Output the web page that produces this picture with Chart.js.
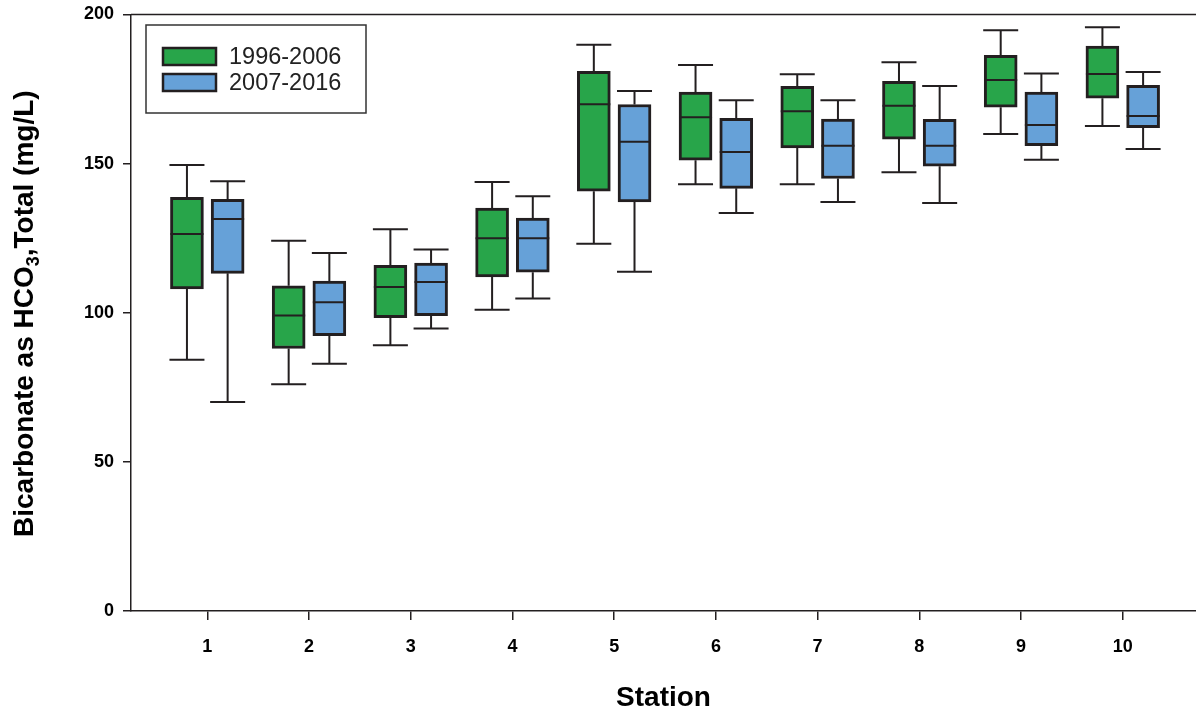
<!DOCTYPE html>
<html lang="en">

<head>
    <meta charset="UTF-8">
    <title>Bicarbonate by station</title>
    <script src="https://cdn.jsdelivr.net/npm/chart.js"></script>
    <style>
        html, body { margin: 0; padding: 0; background: #fff; }
        #wrap { position: relative; width: 1196px; height: 715px; }
    </style>
</head>

<body>
    <div id="wrap">
        <canvas id="boxChart"></canvas>
    </div>
    <script>
        const stations = [1, 2, 3, 4, 5, 6, 7, 8, 9, 10];
        const yTicks = [0, 50, 100, 150, 200];

        // 1996-2006
        const earlyMin = [84.2, 76.0, 89.1, 101.0, 123.1, 143.1, 143.1, 147.1, 159.9, 162.6];
        const earlyQ1 = [108.0, 88.0, 98.3, 112.0, 140.7, 151.1, 155.2, 158.2, 168.9, 171.9];
        const earlyMed = [126.4, 99.1, 108.6, 125.0, 169.9, 165.5, 167.5, 169.4, 178.0, 180.0];
        const earlyQ3 = [138.7, 109.0, 115.9, 135.1, 180.9, 174.0, 175.9, 177.6, 186.3, 189.4];
        const earlyMax = [149.5, 124.1, 128.0, 143.8, 189.8, 183.0, 179.9, 184.0, 194.7, 195.7];

        // 2007-2016
        const lateMin = [70.1, 82.9, 94.7, 104.8, 113.7, 133.4, 137.1, 136.8, 151.3, 154.9];
        const lateQ1 = [113.2, 92.3, 99.0, 113.6, 137.1, 141.7, 145.0, 149.1, 156.0, 162.0];
        const lateMed = [131.4, 103.5, 110.3, 125.0, 157.3, 153.9, 156.0, 156.0, 162.9, 165.9];
        const lateQ3 = [138.0, 110.6, 116.6, 131.7, 169.8, 165.2, 164.9, 164.8, 174.0, 176.2];
        const lateMax = [144.1, 120.0, 121.2, 139.0, 174.3, 171.2, 171.2, 176.0, 180.2, 180.7];

        const INK = '#231f20';
        const FONT = "Arial, 'Liberation Sans', sans-serif";

        function boxData(shift, q1, q3) {
            return stations.map((s, i) => ({ x: s + shift, y: [q1[i], q3[i]] }));
        }

        // whiskers + median lines, drawn on top of the bars
        const whiskerPlugin = {
            id: 'whiskers',
            afterDatasetsDraw(chart) {
                const { ctx } = chart;
                const xs = chart.scales.x, ys = chart.scales.y;
                chart.data.datasets.forEach((ds, di) => {
                    const meta = chart.getDatasetMeta(di);
                    ctx.save();
                    ctx.strokeStyle = INK;
                    ctx.lineCap = 'butt';
                    meta.data.forEach((bar, i) => {
                        const cx = xs.getPixelForValue(ds.data[i].x);
                        const half = bar.width / 2;
                        const yMin = ys.getPixelForValue(ds.lo[i]);
                        const yMax = ys.getPixelForValue(ds.hi[i]);
                        const yQ1 = ys.getPixelForValue(ds.data[i].y[0]);
                        const yQ3 = ys.getPixelForValue(ds.data[i].y[1]);
                        const yMed = ys.getPixelForValue(ds.med[i]);
                        ctx.lineWidth = 2;
                        ctx.beginPath();
                        ctx.moveTo(cx, yQ3); ctx.lineTo(cx, yMax);
                        ctx.moveTo(cx, yQ1); ctx.lineTo(cx, yMin);
                        ctx.moveTo(cx - half - 1, yMax); ctx.lineTo(cx + half + 1, yMax);
                        ctx.moveTo(cx - half - 1, yMin); ctx.lineTo(cx + half + 1, yMin);
                        ctx.stroke();
                        ctx.beginPath();
                        ctx.moveTo(cx - half, yMed); ctx.lineTo(cx + half, yMed);
                        ctx.stroke();
                    });
                    ctx.restore();
                });
            }
        };

        // top frame line, y title with subscript, legend box
        const decorPlugin = {
            id: 'decor',
            afterDraw(chart) {
                const { ctx, chartArea } = chart;
                ctx.save();
                ctx.strokeStyle = INK;
                ctx.lineWidth = 1.5;
                ctx.beginPath();
                ctx.moveTo(chartArea.left, chartArea.top);
                ctx.lineTo(chart.width, chartArea.top);
                ctx.stroke();

                // y axis title
                const parts = [
                    { t: 'Bicarbonate as HCO', f: 'bold 28px ' + FONT, dy: 0 },
                    { t: '3', f: 'bold 18px ' + FONT, dy: 6 },
                    { t: ',Total (mg/L)', f: 'bold 28px ' + FONT, dy: 0 }
                ];
                parts.forEach(p => { ctx.font = p.f; p.w = ctx.measureText(p.t).width; });
                ctx.translate(33, 537);
                ctx.rotate(-Math.PI / 2);
                ctx.fillStyle = '#000';
                ctx.textBaseline = 'alphabetic';
                let px = 0;
                parts.forEach(p => {
                    ctx.font = p.f;
                    ctx.fillText(p.t, px, p.dy);
                    px += p.w;
                });
                ctx.restore();

                // legend
                ctx.save();
                const lx = 146, ly = 25, lw = 220, lh = 88;
                ctx.strokeStyle = '#333';
                ctx.lineWidth = 1.5;
                ctx.strokeRect(lx, ly, lw, lh);
                chart.data.datasets.forEach((ds, i) => {
                    const ry = 48 + i * 26;
                    ctx.fillStyle = ds.backgroundColor;
                    ctx.fillRect(163, ry, 53, 17);
                    ctx.strokeStyle = INK;
                    ctx.lineWidth = 2.5;
                    ctx.strokeRect(163, ry, 53, 17);
                    ctx.fillStyle = '#222';
                    ctx.font = '23.5px ' + FONT;
                    ctx.textBaseline = 'middle';
                    ctx.fillText(ds.label, 229, ry + 9.5);
                });
                ctx.restore();
            }
        };

        const ctx = document.getElementById('boxChart').getContext('2d');
        new Chart(ctx, {
            type: 'bar',
            data: {
                datasets: [
                    {
                        label: '1996-2006',
                        data: boxData(-0.2, earlyQ1, earlyQ3),
                        lo: earlyMin, hi: earlyMax, med: earlyMed,
                        backgroundColor: '#28a54a',
                        borderColor: INK,
                        borderWidth: 3,
                        borderSkipped: false,
                        barThickness: 33,
                        grouped: false
                    },
                    {
                        label: '2007-2016',
                        data: boxData(0.2, lateQ1, lateQ3),
                        lo: lateMin, hi: lateMax, med: lateMed,
                        backgroundColor: '#66a1d8',
                        borderColor: INK,
                        borderWidth: 3,
                        borderSkipped: false,
                        barThickness: 33,
                        grouped: false
                    }
                ]
            },
            options: {
                responsive: true,
                maintainAspectRatio: false,
                animation: false,
                layout: { padding: { top: 14, right: 0, left: 0, bottom: 0 } },
                plugins: {
                    legend: { display: false },
                    tooltip: { enabled: false }
                },
                scales: {
                    x: {
                        type: 'linear',
                        offset: false,
                        min: 0.25,
                        max: 10.72,
                        afterBuildTicks: s => { s.ticks = stations.map(v => ({ value: v })); },
                        afterFit: s => { s.height = 104; },
                        grid: { offset: false, drawOnChartArea: false, tickLength: 9, color: INK, lineWidth: 1.5 },
                        border: { color: INK, width: 1.5 },
                        ticks: {
                            color: '#000',
                            padding: 16,
                            maxRotation: 0,
                            font: { family: FONT, size: 18, weight: 'bold' }
                        },
                        title: {
                            display: true,
                            text: 'Station',
                            color: '#000',
                            padding: { top: 0, bottom: 0 },
                            font: { family: FONT, size: 28, weight: 'bold' }
                        }
                    },
                    y: {
                        min: 0,
                        max: 200,
                        afterBuildTicks: s => { s.ticks = yTicks.map(v => ({ value: v })); },
                        afterFit: s => { s.width = 131; },
                        grid: { drawOnChartArea: false, tickLength: 8, color: INK, lineWidth: 1.5 },
                        border: { color: INK, width: 1.5 },
                        ticks: {
                            color: '#000',
                            padding: 9,
                            font: { family: FONT, size: 18, weight: 'bold', lineHeight: 0.6 }
                        }
                    }
                }
            },
            plugins: [whiskerPlugin, decorPlugin]
        });
    </script>
</body>

</html>
